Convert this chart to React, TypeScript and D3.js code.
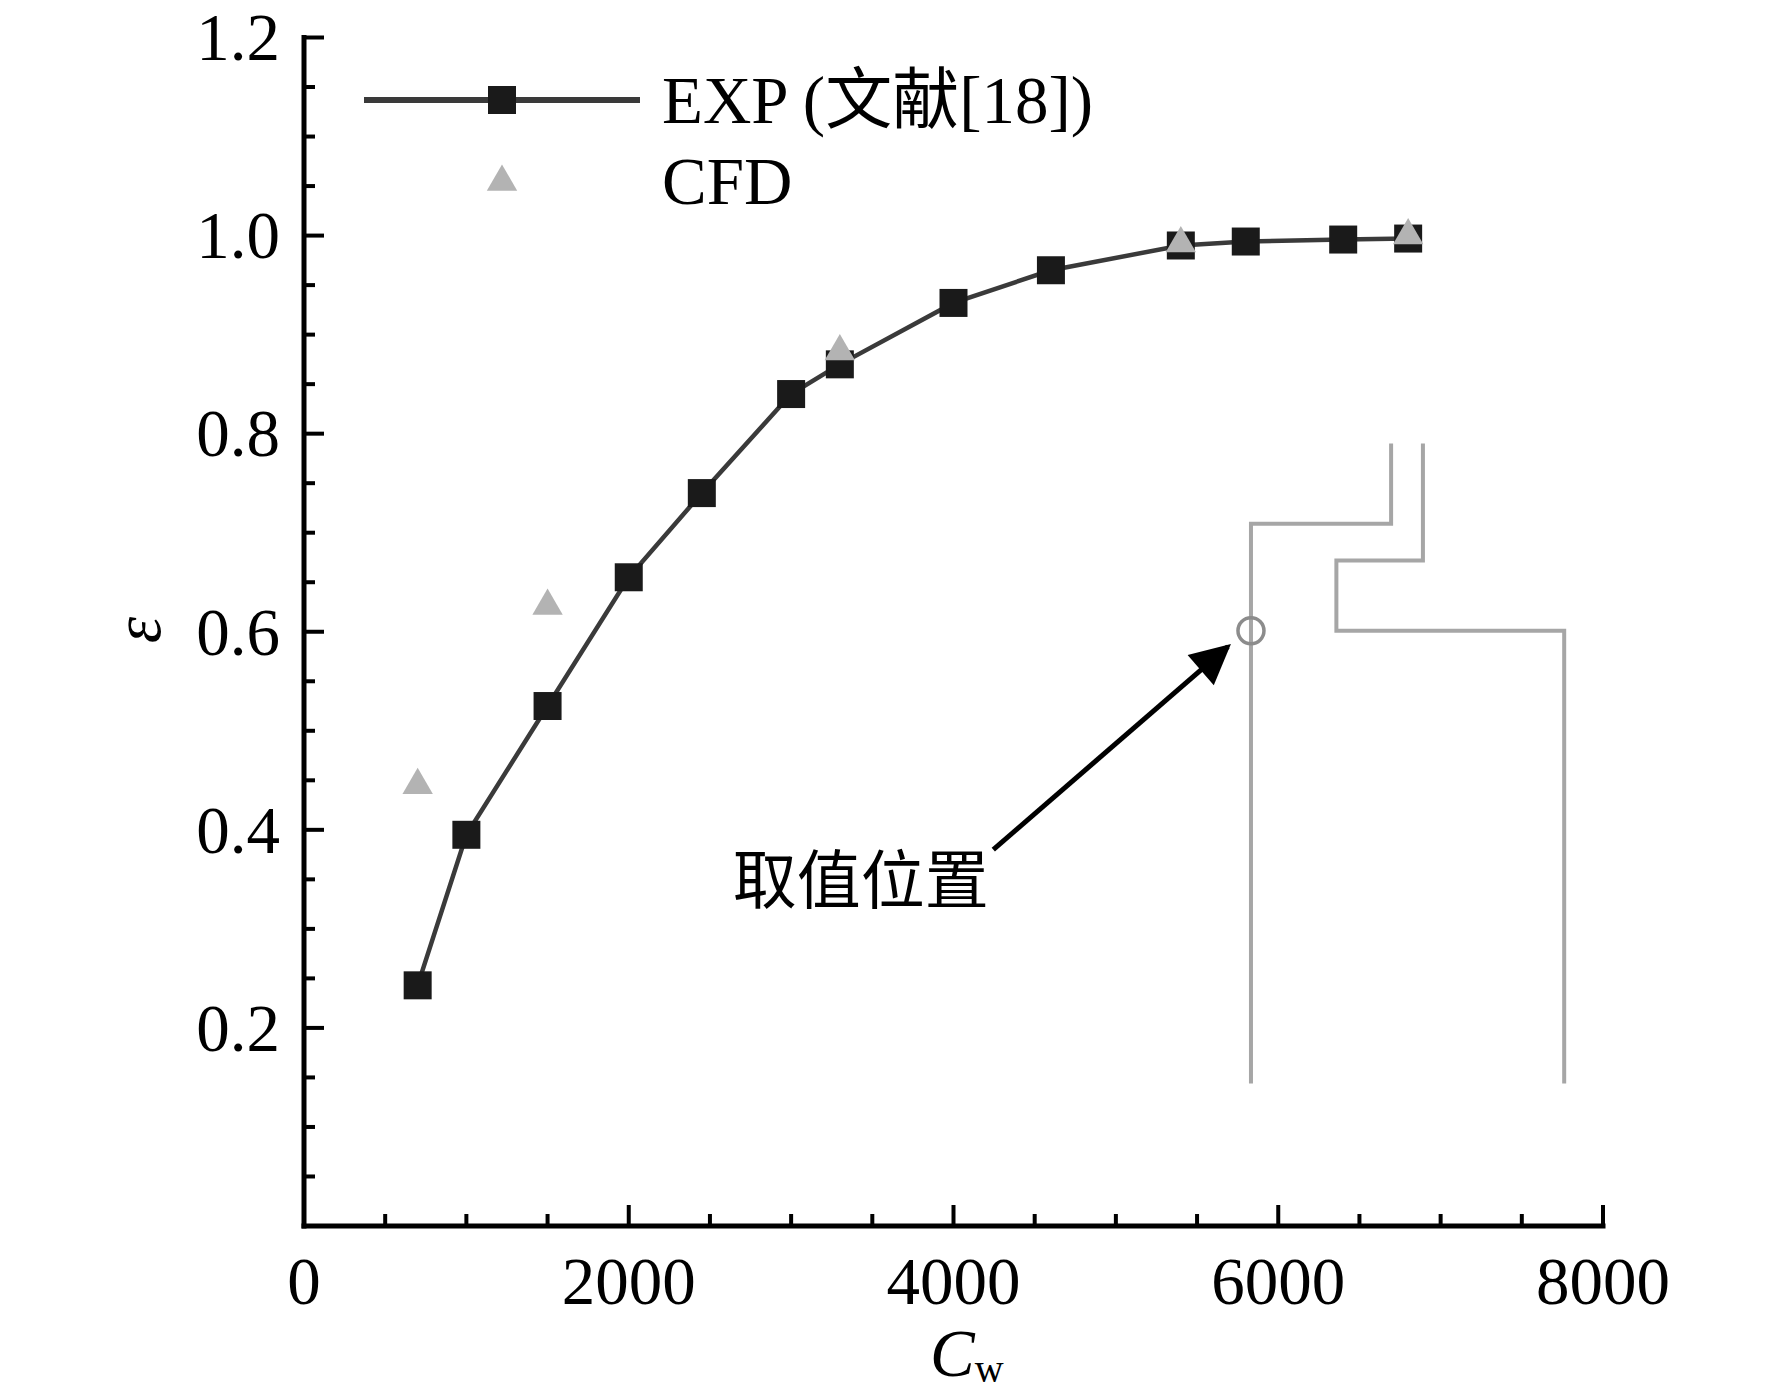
import { useEffect, useRef } from "react";
import * as d3 from "d3";

// C_w values of the experimental points and their effectiveness
const expCw = [700, 1000, 1500, 2000, 2450, 3000, 3300, 4000, 4600, 5400, 5800, 6400, 6800];
const expEps = [0.243, 0.395, 0.525, 0.655, 0.74, 0.84, 0.87, 0.932, 0.965, 0.99, 0.994, 0.996, 0.997];

// CFD points
const cfdCw = [700, 1500, 3300, 5400, 6800];
const cfdEps = [0.445, 0.626, 0.883, 0.992, 1.0];

const xTicks = [0, 2000, 4000, 6000, 8000];
const yTicks = [0.2, 0.4, 0.6, 0.8, 1.0, 1.2];

// schematic of the channel drawn in the plot (data units)
const wallLeft: [number, number][] = [
  [5832, 0.144],
  [5832, 0.709],
  [6695, 0.709],
  [6695, 0.79],
];
const wallRight: [number, number][] = [
  [6891, 0.79],
  [6891, 0.672],
  [6358, 0.672],
  [6358, 0.601],
  [7761, 0.601],
  [7761, 0.144],
];
const probe = { cw: 5832, eps: 0.601 };
const arrowFrom = { cw: 4245, eps: 0.38 };
const arrowTo = { cw: 5690, eps: 0.585 };
const noteText = "取值位置";
const notePos = { cw: 2640, eps: 0.326 };

const W = 1772;
const H = 1393;
const FONT = "'Liberation Serif', 'Times New Roman', 'Noto Sans CJK SC', serif";

export default function App() {
  const svgRef = useRef<SVGSVGElement>(null);

  useEffect(() => {
    document.body.style.margin = "0";
    if (!svgRef.current) return;

    const svg = d3.select(svgRef.current);
    svg.selectAll("*").remove();

    const x = d3.scaleLinear().domain([0, 8000]).range([304, 1603]);
    const y = d3.scaleLinear().domain([0, 1.2]).range([1226, 37.5]);

    svg.append("rect").attr("width", W).attr("height", H).attr("fill", "white");

    const defs = svg.append("defs");
    defs
      .append("marker")
      .attr("id", "arrowhead")
      .attr("viewBox", "0 0 10 10")
      .attr("refX", 9)
      .attr("refY", 5)
      .attr("markerWidth", 9)
      .attr("markerHeight", 8)
      .attr("markerUnits", "strokeWidth")
      .attr("orient", "auto")
      .append("path")
      .attr("d", "M0,0 L10,5 L0,10 Z")
      .attr("fill", "#000");

    // axes
    const axis = svg.append("g").attr("stroke", "#000").attr("stroke-linecap", "square");
    axis
      .append("line")
      .attr("x1", x(0))
      .attr("x2", x(8000))
      .attr("y1", y(0))
      .attr("y2", y(0))
      .attr("stroke-width", 5);
    axis
      .append("line")
      .attr("x1", x(0))
      .attr("x2", x(0))
      .attr("y1", y(0))
      .attr("y2", y(1.2))
      .attr("stroke-width", 5);

    const xMinor = d3.range(500, 8000, 500).filter((v) => v % 2000 !== 0);
    const yMinor = d3.range(0.05, 1.2, 0.05).filter((v) => Math.abs(v * 5 - Math.round(v * 5)) > 1e-6);

    axis
      .selectAll(".xt")
      .data(xTicks.filter((v) => v > 0))
      .enter()
      .append("line")
      .attr("x1", (d) => x(d))
      .attr("x2", (d) => x(d))
      .attr("y1", y(0))
      .attr("y2", y(0) - 19)
      .attr("stroke-width", 4);
    axis
      .selectAll(".xm")
      .data(xMinor)
      .enter()
      .append("line")
      .attr("x1", (d) => x(d))
      .attr("x2", (d) => x(d))
      .attr("y1", y(0))
      .attr("y2", y(0) - 10)
      .attr("stroke-width", 4);
    axis
      .selectAll(".yt")
      .data(yTicks)
      .enter()
      .append("line")
      .attr("x1", x(0))
      .attr("x2", x(0) + 18)
      .attr("y1", (d) => y(d))
      .attr("y2", (d) => y(d))
      .attr("stroke-width", 4);
    axis
      .selectAll(".ym")
      .data(yMinor)
      .enter()
      .append("line")
      .attr("x1", x(0))
      .attr("x2", x(0) + 9)
      .attr("y1", (d) => y(d))
      .attr("y2", (d) => y(d))
      .attr("stroke-width", 4);

    const labels = svg.append("g").attr("font-family", FONT).attr("font-size", 67).attr("fill", "#000");
    labels
      .selectAll(".xl")
      .data(xTicks)
      .enter()
      .append("text")
      .attr("x", (d) => x(d))
      .attr("y", 1304)
      .attr("text-anchor", "middle")
      .text((d) => String(d));
    labels
      .selectAll(".yl")
      .data(yTicks)
      .enter()
      .append("text")
      .attr("x", 280)
      .attr("y", (d) => y(d))
      .attr("dy", "0.34em")
      .attr("text-anchor", "end")
      .text((d) => d.toFixed(1));

    // axis titles
    const xt = labels.append("text").attr("x", 930).attr("y", 1376);
    xt.append("tspan").attr("font-style", "italic").text("C");
    xt.append("tspan").attr("font-size", 40).attr("dy", 6).text("w");
    labels
      .append("text")
      .attr("transform", "translate(160,630) rotate(-90)")
      .attr("text-anchor", "middle")
      .attr("font-style", "italic")
      .text("ε");

    // schematic
    const wallLine = d3
      .line<[number, number]>()
      .x((d) => x(d[0]))
      .y((d) => y(d[1]));
    const walls = svg.append("g").attr("fill", "none").attr("stroke", "#a6a6a6").attr("stroke-width", 4);
    walls.append("path").attr("d", wallLine(wallLeft));
    walls.append("path").attr("d", wallLine(wallRight));
    walls
      .append("circle")
      .attr("cx", x(probe.cw))
      .attr("cy", y(probe.eps))
      .attr("r", 13)
      .attr("stroke", "#8c8c8c")
      .attr("stroke-width", 3.5);

    svg
      .append("line")
      .attr("x1", x(arrowFrom.cw))
      .attr("y1", y(arrowFrom.eps))
      .attr("x2", x(arrowTo.cw))
      .attr("y2", y(arrowTo.eps))
      .attr("stroke", "#000")
      .attr("stroke-width", 5)
      .attr("marker-end", "url(#arrowhead)");

    labels.append("text").attr("x", x(notePos.cw)).attr("y", y(notePos.eps)).attr("font-size", 64).text(noteText);

    // EXP series
    const expData = expCw.map((c, i) => [c, expEps[i]] as [number, number]);
    svg
      .append("path")
      .attr("d", wallLine(expData))
      .attr("fill", "none")
      .attr("stroke", "#3a3a3a")
      .attr("stroke-width", 4.5);
    const square = d3.symbol(d3.symbolSquare, 784)();
    svg
      .append("g")
      .selectAll("path")
      .data(expData)
      .enter()
      .append("path")
      .attr("d", square)
      .attr("transform", (d) => `translate(${x(d[0])},${y(d[1])})`)
      .attr("fill", "#1a1a1a");

    // CFD series
    const tri = d3.symbol(d3.symbolTriangle, 400)();
    svg
      .append("g")
      .selectAll("path")
      .data(cfdCw.map((c, i) => [c, cfdEps[i]]))
      .enter()
      .append("path")
      .attr("d", tri)
      .attr("transform", (d) => `translate(${x(d[0])},${y(d[1])})`)
      .attr("fill", "#b3b3b3");

    // legend
    const lg = svg.append("g");
    lg.append("line").attr("x1", 364).attr("x2", 640).attr("y1", 100).attr("y2", 100).attr("stroke", "#3a3a3a").attr("stroke-width", 6);
    lg.append("path").attr("d", square).attr("transform", "translate(502,100)").attr("fill", "#1a1a1a");
    lg.append("path").attr("d", tri).attr("transform", "translate(502,182)").attr("fill", "#b3b3b3");
    const lt = lg.append("g").attr("font-family", FONT).attr("font-size", 67).attr("fill", "#000");
    lt.append("text").attr("x", 662).attr("y", 123).text("EXP (文献[18])");
    lt.append("text").attr("x", 662).attr("y", 204).text("CFD");
  }, []);

  return <svg ref={svgRef} width={W} height={H} viewBox={`0 0 ${W} ${H}`} style={{ display: "block" }} />;
}
